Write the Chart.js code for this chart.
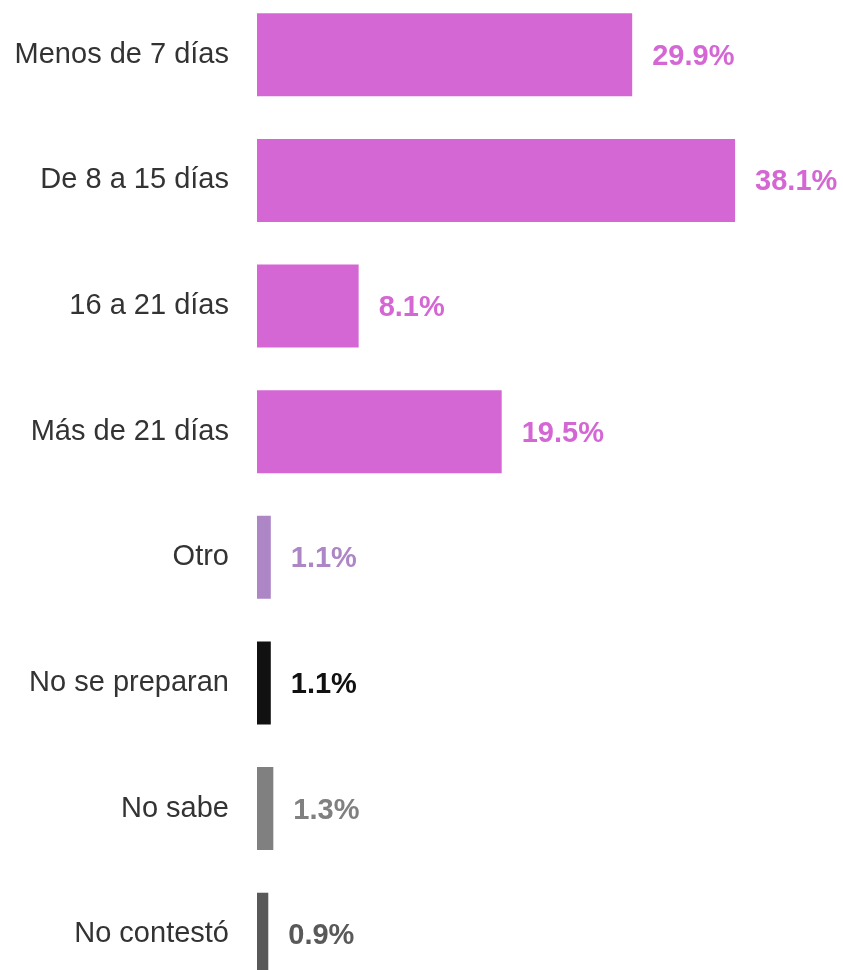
<!DOCTYPE html>
<html>
<head>
<meta charset="utf-8">
<script src="https://cdn.jsdelivr.net/npm/chart.js@4/dist/chart.umd.min.js"></script>
<style>
  html, body { margin: 0; padding: 0; background: #fff; overflow: hidden; }
  #wrap { position: absolute; left: 0; top: -8px; width: 843px; height: 1005px; }
</style>
</head>
<body>
<div id="wrap"><canvas id="daysChart" width="843" height="1005"></canvas></div>
<script>
// survey answers and their shares (%)
const categories = ['Menos de 7 días', 'De 8 a 15 días', '16 a 21 días', 'Más de 21 días', 'Otro', 'No se preparan', 'No sabe', 'No contestó'];
const shares = [29.9, 38.1, 8.1, 19.5, 1.1, 1.1, 1.3, 0.9];
const barColors = ['#d467d4', '#d467d4', '#d467d4', '#d467d4', '#ad86c6', '#111111', '#808080', '#595959'];

const fontFamily = '"Liberation Sans", Arial, Helvetica, sans-serif';

// value labels drawn at the end of every bar
const valueLabels = {
  id: 'valueLabels',
  afterDatasetsDraw(chart) {
    const ctx = chart.ctx;
    const meta = chart.getDatasetMeta(0);
    ctx.save();
    ctx.font = 'bold 29px ' + fontFamily;
    ctx.textAlign = 'left';
    ctx.textBaseline = 'middle';
    meta.data.forEach((bar, i) => {
      ctx.fillStyle = barColors[i];
      ctx.fillText(shares[i].toFixed(1) + '%', bar.x + 20, bar.y + 2);
    });
    ctx.restore();
  }
};

const ctx = document.getElementById('daysChart').getContext('2d');
new Chart(ctx, {
  type: 'bar',
  data: {
    labels: categories,
    datasets: [{
      data: shares,
      backgroundColor: barColors,
      borderWidth: 0,
      barPercentage: 0.66,
      categoryPercentage: 1
    }]
  },
  options: {
    indexAxis: 'y',
    responsive: false,
    animation: false,
    layout: { padding: 0 },
    plugins: {
      legend: { display: false },
      tooltip: { enabled: false }
    },
    scales: {
      x: {
        display: false,
        min: 0,
        max: 46.7
      },
      y: {
        afterFit(scale) {
          scale.width = 257;
          scale.paddingTop = 0;
          scale.paddingBottom = 0;
        },
        grid: { display: false, drawTicks: false },
        border: { display: false },
        ticks: {
          padding: 28,
          color: '#333333',
          font: { family: fontFamily, size: 29 }
        }
      }
    }
  },
  plugins: [valueLabels]
});
</script>
</body>
</html>
